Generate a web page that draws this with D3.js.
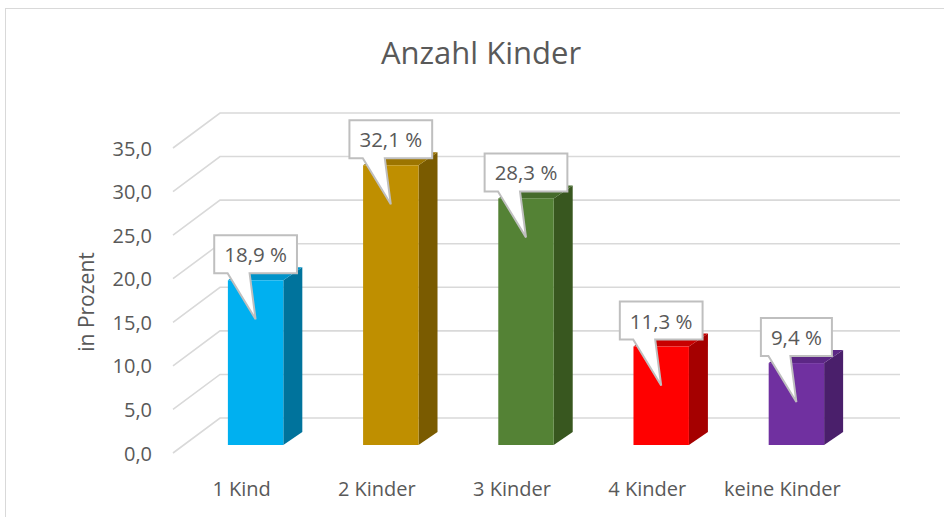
<!DOCTYPE html>
<html>
<head>
<meta charset="utf-8">
<script src="https://cdn.jsdelivr.net/npm/d3@7"></script>
<style>
body { margin: 0; background: #fff; }
svg { display: block; font-family: "Open Sans", sans-serif; }
</style>
</head>
<body>
<svg id="chart" width="944" height="517"></svg>
<script>
var categories = ["1 Kind", "2 Kinder", "3 Kinder", "4 Kinder", "keine Kinder"];
var values = [18.9, 32.1, 28.3, 11.3, 9.4];
var frontColors = ["#00b0f0", "#bf8f00", "#548235", "#ff0000", "#7030a0"];
var sideColors = ["#00739c", "#7a5b00", "#38571f", "#a50000", "#4a1f6b"];
var topColors = ["#0093c9", "#9c7500", "#456b2b", "#c80000", "#5c2785"];
var yTicks = [0, 5, 10, 15, 20, 25, 30, 35];

var svg = d3.select("#chart");
var textColor = "#595959";

// chart border
svg.append("rect")
	.attr("x", 5.5).attr("y", 8.5)
	.attr("width", 960).attr("height", 540)
	.attr("fill", "none")
	.attr("stroke", "#d9d9d9");

// 3d offsets
var wallDx = 47, wallDy = -35;
var barDx = 19, barDy = -13;
var frontX = 173;
var backRight = 900;

// back wall value scale
var yBack = d3.scaleLinear().domain([0, 35]).range([418, 113]);
// bar front face sits a little in front of the back wall
var barShift = 27;

var x = d3.scaleBand()
	.domain(categories)
	.range([188, 864])
	.paddingInner(0.59)
	.paddingOuter(0.295);

var fmt = function(v) { return d3.format(".1f")(v).replace(".", ","); };

// gridlines
var grid = svg.append("g");
yTicks.forEach(function(t) {
	var yb = yBack(t);
	grid.append("polyline")
		.attr("points", [[frontX, yb - wallDy], [frontX + wallDx, yb], [backRight, yb]].join(" "))
		.attr("fill", "none")
		.attr("stroke", "#d9d9d9")
		.attr("stroke-width", 1.6);
});

// y tick labels
svg.append("g").selectAll("text").data(yTicks).enter()
	.append("text")
	.attr("x", 152)
	.attr("y", function(d) { return yBack(d) - wallDy; })
	.attr("text-anchor", "end")
	.attr("dominant-baseline", "central")
	.attr("fill", textColor)
	.style("font-size", "20px")
	.text(fmt);

// axis title
svg.append("text")
	.attr("transform", "translate(86,302) rotate(-90)")
	.attr("text-anchor", "middle")
	.attr("dominant-baseline", "central")
	.attr("fill", textColor)
	.style("font-size", "21px")
	.text("in Prozent");

// title
svg.append("text")
	.attr("x", 481).attr("y", 52)
	.attr("text-anchor", "middle")
	.attr("dominant-baseline", "central")
	.attr("fill", textColor)
	.style("font-size", "31px")
	.text("Anzahl Kinder");

// bars
var bars = svg.append("g").selectAll("g").data(categories).enter().append("g");

bars.each(function(c, i) {
	var g = d3.select(this);
	var x0 = x(c), w = x.bandwidth();
	var base = yBack(0) + barShift;
	var top = yBack(values[i]) + barShift;
	// side
	g.append("polygon")
		.attr("points", [[x0 + w, base], [x0 + w + barDx, base + barDy], [x0 + w + barDx, top + barDy], [x0 + w, top]].join(" "))
		.attr("fill", sideColors[i]);
	// top
	g.append("polygon")
		.attr("points", [[x0, top], [x0 + barDx, top + barDy], [x0 + w + barDx, top + barDy], [x0 + w, top]].join(" "))
		.attr("fill", topColors[i]);
	// front
	g.append("rect")
		.attr("x", x0).attr("y", top)
		.attr("width", w).attr("height", base - top)
		.attr("fill", frontColors[i]);
});

// category labels
svg.append("g").selectAll("text").data(categories).enter()
	.append("text")
	.attr("x", function(d) { return x(d) + x.bandwidth() / 2 - 14; })
	.attr("y", 488)
	.attr("text-anchor", "middle")
	.attr("dominant-baseline", "central")
	.attr("fill", textColor)
	.style("font-size", "20px")
	.text(function(d) { return d; });

// callouts
var callouts = svg.append("g").selectAll("g").data(categories).enter().append("g");
callouts.each(function(c, i) {
	var g = d3.select(this);
	var cx = x(c) + x.bandwidth() / 2;
	var top = yBack(values[i]) + barShift;
	var label = fmt(values[i]) + " %";
	var t = g.append("text")
		.attr("x", cx)
		.attr("y", top - 26)
		.attr("text-anchor", "middle")
		.attr("dominant-baseline", "central")
		.attr("fill", textColor)
		.style("font-size", "20.5px")
		.text(label);
	var tw = t.node().getComputedTextLength();
	var bw = tw + 20, bh = 38;
	var bx = cx - bw / 2, by = top - 45;
	var path = d3.path();
	path.moveTo(bx, by);
	path.lineTo(bx + bw, by);
	path.lineTo(bx + bw, by + bh);
	path.lineTo(cx - 6, by + bh);
	path.lineTo(cx, by + bh + 46);
	path.lineTo(cx - 28, by + bh);
	path.lineTo(bx, by + bh);
	path.closePath();
	g.insert("path", "text")
		.attr("d", path.toString())
		.attr("fill", "#fff")
		.attr("stroke", "#bfbfbf")
		.attr("stroke-width", 2);
});
</script>
</body>
</html>
